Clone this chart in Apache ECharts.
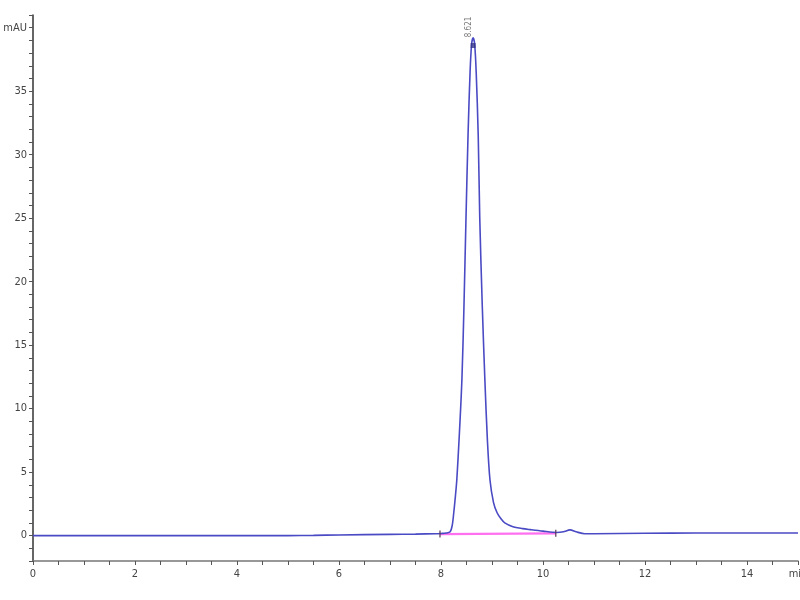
<!DOCTYPE html>
<html>
<head>
<meta charset="utf-8">
<script src="https://cdn.jsdelivr.net/npm/echarts@6/dist/echarts.min.js"></script>
<style>html,body{margin:0;padding:0;background:#fff;overflow:hidden}#c{width:800px;height:600px}</style>
</head>
<body>
<div id="c"></div>
<script>
// Chromatogram trace (time in min, absorbance in mAU)
const times = [0, 1, 2, 3, 4, 5, 5.5, 6, 7, 7.5, 7.9, 8.0, 8.1, 8.18, 8.22, 8.25, 8.28, 8.31, 8.36, 8.41, 8.45, 8.49, 8.53, 8.57, 8.60, 8.63, 8.66, 8.69, 8.73, 8.76, 8.81, 8.86, 8.91, 8.96, 9.03, 9.10, 9.18, 9.25, 9.41, 9.6, 9.75, 10.0, 10.27, 10.4, 10.53, 10.65, 10.82, 11, 12, 13, 14, 15];
const signal = [0, 0, 0, 0, 0, 0, 0.02, 0.05, 0.1, 0.12, 0.15, 0.17, 0.2, 0.3, 0.8, 1.8, 3.0, 4.4, 8.0, 12.3, 18, 25, 31.5, 36.5, 38.7, 39.2, 38.7, 36.5, 31.5, 25, 18, 12.3, 7.5, 4.4, 2.6, 1.8, 1.3, 1.0, 0.7, 0.55, 0.47, 0.35, 0.25, 0.3, 0.45, 0.3, 0.15, 0.15, 0.18, 0.2, 0.2, 0.2];
// Integration baseline (start, end)
const baseTimes = [7.98, 10.25];
const baseValues = [0.12, 0.18];
// Peak annotation
const peakTime = 8.63;
const peakHeight = 38.6;
const peakLabel = "8.621";
// Axis labels
const yUnit = "mAU";
const xUnit = "min";

const chart = echarts.init(document.getElementById('c'), null, {width: 800, height: 600});
const font = 'DejaVu Sans Condensed, sans-serif';
chart.setOption({
  animation: false,
  grid: {left: 33, right: 2, top: 15, bottom: 39, containLabel: false, outerBoundsMode: 'none'},
  xAxis: {
    type: 'value', min: 0, max: 15, interval: 0.5,
    axisLine: {onZero: false, lineStyle: {color: '#777', width: 1.5}},
    axisTick: {length: 4, lineStyle: {color: '#555'}},
    splitLine: {show: false},
    axisLabel: {
      color: '#444', fontSize: 11, fontFamily: font, margin: 8,
      formatter: v => (Math.abs(v - 15) < 1e-6 ? xUnit : (Math.abs(v % 2) < 1e-6 ? String(v) : ''))
    }
  },
  yAxis: {
    type: 'value', min: -2, max: 41, interval: 1,
    axisLine: {onZero: false, lineStyle: {color: '#333', width: 1.5}},
    axisTick: {length: 4, lineStyle: {color: '#555'}},
    splitLine: {show: false},
    axisLabel: {
      color: '#444', fontSize: 11, fontFamily: font, margin: 6,
      formatter: v => (v === 40 ? yUnit : (v >= 0 && v % 5 === 0 && v <= 35 ? String(v) : ''))
    }
  },
  series: [
    {
      type: 'line', data: times.map((t, i) => [t, signal[i]]),
      showSymbol: false, smooth: 0.3,
      lineStyle: {color: '#4a4ac4', width: 1.6}, z: 3
    },
    {
      type: 'line', data: baseTimes.map((t, i) => [t, baseValues[i]]),
      showSymbol: false,
      lineStyle: {color: '#ff70f0', width: 2.2}, z: 2
    },
    {
      type: 'scatter', data: baseTimes.map((t, i) => [t, baseValues[i]]),
      symbol: 'rect', symbolSize: [1.5, 7], itemStyle: {color: '#553355'}, z: 4
    },
    {
      type: 'scatter', data: [[peakTime, peakHeight]],
      symbol: 'rect', symbolSize: 5, itemStyle: {color: '#333388'}, z: 5,
      label: {
        show: true, formatter: peakLabel, position: 'top', rotate: 90,
        fontSize: 8, color: '#555', fontFamily: font, distance: 16
      }
    }
  ]
});
</script>
</body>
</html>
